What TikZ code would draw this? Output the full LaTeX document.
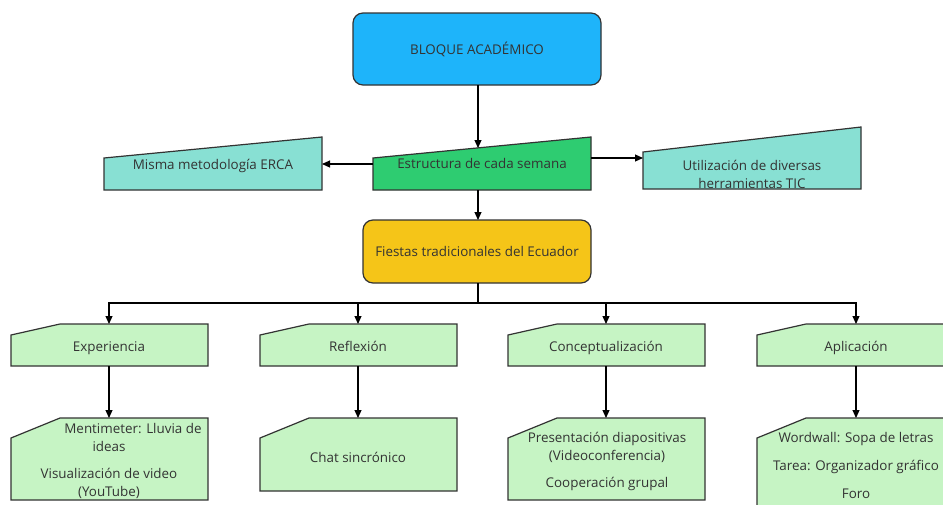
\documentclass[tikz,border=0pt]{standalone}
\usepackage{fontspec}
\setmainfont{Open Sans}
\usetikzlibrary{arrows.meta,calc}
\definecolor{cblue}{HTML}{1EB4FA}
\definecolor{cgreen}{HTML}{2ECC71}
\definecolor{cteal}{HTML}{88E0D3}
\definecolor{cyellow}{HTML}{F5C518}
\definecolor{clight}{HTML}{C6F4C4}
\definecolor{cborder}{HTML}{333333}
\definecolor{ctext}{HTML}{333333}
\newcommand\cardshape[5]{\draw[box,fill=#5] (#1,#4) -- ({#1+49},#2) -- ({#1+197},#2) -- ({#1+197},#3) -- (#1,#3) -- cycle;}
\begin{document}
\begin{tikzpicture}[x=1pt,y=-1pt,
  box/.style={draw=cborder, line width=1.2pt, line join=miter},
  txt/.style={text=ctext, font=\fontsize{13.4}{16}\selectfont, inner sep=0pt, anchor=center, text height=9.6pt, text depth=3pt, yshift=-1.8pt},
  arr/.style={draw=black, line width=1.1pt, -{Triangle[length=8pt,width=7pt]}},
  ln/.style={draw=black, line width=1.1pt}]
\useasboundingbox (0,0) rectangle (943,504);
\fill[white] (0,0) rectangle (943,504);

% top box
\draw[box, fill=cblue, rounded corners=10pt] (353,13) rectangle (601,85);
\node[txt] (bloque) at (477,49) {BLOQUE ACADÉMICO};
\coordinate (bloqueS) at (478,85);

% estructura
\draw[box, fill=cgreen] (373,158) -- (591,137) -- (591,190) -- (373,190) -- cycle;
\node[txt] (estructura) at (482,163) {Estructura de cada semana};
\coordinate (estrN) at (478,148);
\coordinate (estrW) at (373,164);
\coordinate (estrE) at (591,158);
\coordinate (estrS) at (478,190);

% ERCA
\draw[box, fill=cteal] (104,158) -- (322,137) -- (322,190) -- (104,190) -- cycle;
\node[txt] (erca) at (213,164) {Misma metodología ERCA};
\coordinate (ercaE) at (322,164);

% TIC
\draw[box, fill=cteal] (643,152) -- (861,127) -- (861,189) -- (643,189) -- cycle;
\node[txt] (tic1) at (752,165) {Utilización de diversas};
\node[txt] (tic2) at (752,183) {herramientas TIC};
\coordinate (ticW) at (643,158);

% fiestas
\draw[box, fill=cyellow, rounded corners=10pt] (363,220) rectangle (591,283);
\node[txt] (fiestas) at (477,251) {Fiestas tradicionales del Ecuador};
\coordinate (fiestasN) at (478,220);
\coordinate (fiestasS) at (478,283);
\coordinate (bus) at (478,303);

% level 2
\cardshape{11}{324}{366}{335}{clight}
\cardshape{260}{324}{366}{335}{clight}
\cardshape{508}{324}{366}{335}{clight}
\cardshape{757}{324}{366}{335}{clight}
\node[txt] (exp) at (109,346) {Experiencia};
\node[txt] (ref) at (358,346) {Reflexión};
\node[txt] (con) at (606,346) {Conceptualización};
\node[txt] (apl) at (856,346) {Aplicación};
\coordinate (expN) at (109,324);
\coordinate (refN) at (358,324);
\coordinate (conN) at (606,324);
\coordinate (aplN) at (856,324);
\coordinate (expS) at (109,366);
\coordinate (refS) at (358,366);
\coordinate (conS) at (606,366);
\coordinate (aplS) at (856,366);

% level 3
\cardshape{11}{418}{500}{438}{clight}
\cardshape{260}{418}{491}{438}{clight}
\cardshape{508}{418}{500}{438}{clight}
\cardshape{757}{418}{520}{438}{clight}
\coordinate (exp3N) at (109,418);
\coordinate (ref3N) at (358,418);
\coordinate (con3N) at (606,418);
\coordinate (apl3N) at (856,418);

\node[txt] (e1) at (133,428) {Mentimeter: Lluvia de};
\node[txt] (e2) at (109,446) {ideas};
\node[txt] (e3) at (109,473) {Visualización de video};
\node[txt] (e4) at (109,491) {(YouTube)};
\node[txt] (r1) at (358,457) {Chat sincrónico};
\node[txt] (c1) at (607,437) {Presentación diapositivas};
\node[txt] (c2) at (607,455) {(Videoconferencia)};
\node[txt] (c3) at (607,482) {Cooperación grupal};
\node[txt] (a1) at (856,437) {Wordwall: Sopa de letras};
\node[txt] (a2) at (856,465) {Tarea: Organizador gráfico};
\node[txt] (a3) at (856,493) {Foro};

% connectors
\draw[arr] (bloqueS) -- (estrN);
\draw[arr] (estrW) -- (ercaE);
\draw[arr] (estrE) -- (ticW);
\draw[arr] (estrS) -- (fiestasN);
\draw[ln] (fiestasS) -- (bus);
\draw[arr] (bus) -| (expN);
\draw[arr] (bus) -| (refN);
\draw[arr] (bus) -| (conN);
\draw[arr] (bus) -| (aplN);
\draw[arr] (expS) -- (exp3N);
\draw[arr] (refS) -- (ref3N);
\draw[arr] (conS) -- (con3N);
\draw[arr] (aplS) -- (apl3N);
\end{tikzpicture}
\end{document}
